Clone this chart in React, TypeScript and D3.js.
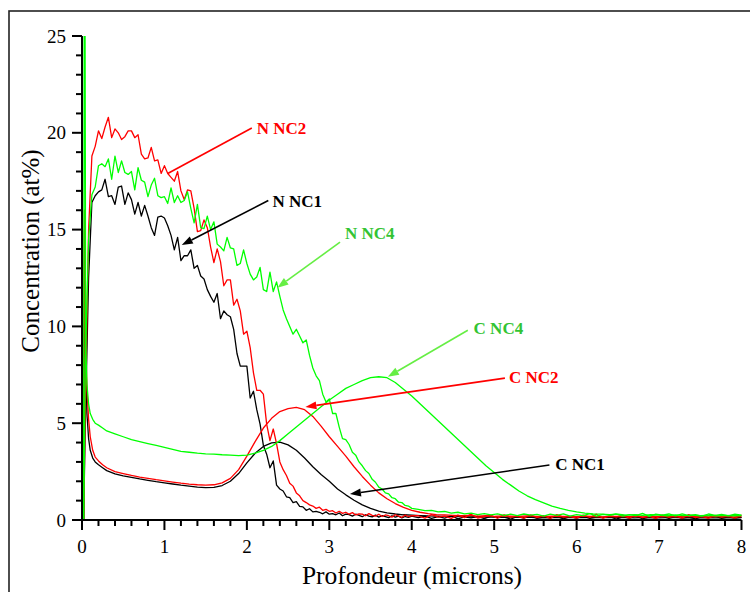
import React from "react";
import * as d3 from "d3";

// ---------- data ----------
// depth grid for the nitrogen (noisy) profiles: 0.02, 0.04..4.00 step 0.04, 4.08..8.00 step 0.08
const nDepth: number[] = [
  0.02,
  ...d3.range(1, 101).map((k) => k * 0.04),
  ...d3.range(1, 51).map((k) => 4 + k * 0.08),
];
// depth grid for the carbon (smooth) profiles
const cDepth: number[] = [
  0.02, 0.03, 0.045, 0.06, 0.08, 0.1, 0.13, 0.16, 0.2, 0.25,
  ...d3.range(3, 81).map((k) => k / 10),
];

const nNC1: number[] = [
  0, 5, 12.5, 16.4, 16.75, 16.95, 17.05, 17.6, 16.7, 16.75,
  16.3, 17.2, 17.25, 16.3, 16.9, 16.55, 15.8, 16.4, 15.7, 16.25,
  15.7, 15.1, 14.7, 15.65, 15.7, 15.6, 15.2, 14.7, 13.95, 14.6,
  13.4, 13.65, 13.65, 13.95, 13.0, 13.15, 12.6, 12.45, 11.9, 11.55,
  11.25, 11.7, 10.4, 10.8, 10.6, 10.5, 9.85, 8.6, 7.95, 7.95,
  7.95, 6.3, 6.65, 5.7, 4.95, 3.85, 3.4, 2.7, 3.05, 1.8,
  1.6, 1.5, 1.2, 1.15, 0.9, 0.95, 0.7, 0.68, 0.5, 0.58,
  0.42, 0.45, 0.4, 0.32, 0.42, 0.3, 0.33, 0.27, 0.36, 0.22,
  0.3, 0.28, 0.2, 0.3, 0.24, 0.17, 0.27, 0.2, 0.16, 0.25,
  0.15, 0.22, 0.17, 0.12, 0.22, 0.15, 0.2, 0.11, 0.18, 0.14,
  0.2,
  0.12, 0.2, 0.08, 0.18, 0.1, 0.22, 0.06, 0.16, 0.11, 0.19,
  0.07, 0.2, 0.12, 0.15, 0.05, 0.18, 0.1, 0.21, 0.08, 0.14,
  0.11, 0.19, 0.06, 0.17, 0.1, 0.2, 0.08, 0.15, 0.12, 0.18,
  0.05, 0.16, 0.1, 0.2, 0.07, 0.14, 0.11, 0.19, 0.08, 0.17,
  0.1, 0.15, 0.06, 0.18, 0.12, 0.2, 0.08, 0.16, 0.1, 0.14,
];

const nNC2: number[] = [
  0, 6, 15, 18.8, 19.3, 20.1, 19.7, 20.3, 20.8, 19.75,
  20.2, 20.0, 19.65, 19.8, 20.1, 20.1, 19.75, 19.9, 18.9, 18.65,
  18.7, 19.25, 18.55, 18.6, 17.9, 18.3, 17.9, 17.7, 17.5, 18.0,
  17.0, 16.55, 17.05, 17.0, 16.1, 14.9, 14.95, 15.5, 15.1, 14.1,
  13.3, 14.0, 13.35, 12.1, 12.4, 12.4, 11.1, 11.4, 10.8, 9.6,
  9.75, 8.9, 7.6, 6.7, 6.7, 6.5, 4.95, 4.1, 4.7, 3.95,
  3.0, 2.6, 2.3, 1.9, 1.75, 1.4, 1.25, 1.0, 0.9, 0.78,
  0.72, 0.6, 0.66, 0.5, 0.55, 0.45, 0.48, 0.36, 0.45, 0.34,
  0.4, 0.3, 0.38, 0.26, 0.32, 0.3, 0.22, 0.33, 0.24, 0.2,
  0.3, 0.18, 0.26, 0.22, 0.15, 0.27, 0.2, 0.14, 0.25, 0.18,
  0.22,
  0.22, 0.1, 0.28, 0.15, 0.2, 0.08, 0.25, 0.12, 0.3, 0.1,
  0.18, 0.24, 0.09, 0.27, 0.14, 0.2, 0.1, 0.26, 0.12, 0.22,
  0.08, 0.28, 0.15, 0.19, 0.1, 0.25, 0.13, 0.3, 0.09, 0.21,
  0.16, 0.24, 0.1, 0.27, 0.12, 0.2, 0.08, 0.25, 0.14, 0.22,
  0.1, 0.28, 0.12, 0.19, 0.09, 0.24, 0.15, 0.21, 0.1, 0.26,
];

const nNC4: number[] = [
  0, 8, 14.5, 16.8, 17.2, 18.3, 18.4, 18.25, 18.65, 17.6,
  18.8, 17.95, 18.55, 17.95, 17.85, 18.0, 17.05, 18.2, 17.55, 17.45,
  16.7, 17.3, 17.65, 16.75, 16.65, 16.7, 16.35, 17.15, 16.4, 16.75,
  16.4, 16.5, 16.95, 16.1, 15.35, 16.3, 15.1, 15.05, 15.7, 15.0,
  15.4, 14.25, 14.1, 13.9, 14.6, 14.05, 14.0, 13.15, 13.25, 13.95,
  13.25, 12.7, 12.4, 12.55, 13.05, 11.9, 11.8, 12.8, 11.8, 12.3,
  11.55, 10.85, 10.4, 10.0, 9.6, 9.85, 9.5, 9.15, 9.3, 8.5,
  7.85, 7.45, 7.2, 6.5, 6.1, 6.25, 5.5, 5.5, 4.8, 4.2,
  4.15, 3.9, 3.5, 3.35, 3.0, 2.8, 2.55, 2.4, 2.1, 1.95,
  1.7, 1.6, 1.4, 1.35, 1.15, 1.1, 0.92, 0.9, 0.75, 0.72,
  0.6,
  0.55, 0.48, 0.5, 0.42, 0.44, 0.36, 0.4, 0.32, 0.36, 0.28,
  0.33, 0.26, 0.32, 0.24, 0.3, 0.22, 0.31, 0.25, 0.29, 0.2,
  0.3, 0.24, 0.32, 0.2, 0.28, 0.23, 0.33, 0.2, 0.29, 0.25,
  0.31, 0.2, 0.28, 0.23, 0.34, 0.19, 0.3, 0.25, 0.31, 0.21,
  0.32, 0.22, 0.28, 0.2, 0.31, 0.24, 0.29, 0.21, 0.3, 0.25,
];

const cNC1: number[] = [
  0, 15, 8, 5.5, 4.2, 3.6, 3.2, 3.0, 2.85, 2.7,
  2.55, 2.38, 2.28, 2.2, 2.12, 2.05, 1.98, 1.92, 1.86, 1.8,
  1.75, 1.7, 1.67, 1.68, 1.78, 2.0, 2.4, 2.95, 3.45, 3.8,
  3.98, 4.02, 3.88, 3.6, 3.2, 2.75, 2.35, 2.0, 1.6, 1.3,
  1.02, 0.78, 0.6, 0.46, 0.37, 0.31, 0.27, 0.25,
  0.23, 0.21, 0.2, 0.19, 0.18, 0.17, 0.16, 0.17, 0.15, 0.16,
  0.14, 0.15, 0.14, 0.15, 0.13, 0.14, 0.13, 0.14, 0.12, 0.13,
  0.14, 0.12, 0.13, 0.12, 0.13, 0.12, 0.11, 0.13, 0.12, 0.11,
  0.12, 0.13, 0.11, 0.12, 0.11, 0.12, 0.11, 0.12, 0.11, 0.12,
];

const cNC2: number[] = [
  0, 16, 9, 6.8, 5.2, 4.3, 3.6, 3.25, 3.05, 2.85,
  2.7, 2.5, 2.4, 2.3, 2.22, 2.15, 2.08, 2.02, 1.96, 1.9,
  1.85, 1.82, 1.8, 1.82, 1.92, 2.15, 2.6, 3.3, 4.05, 4.75,
  5.25, 5.6, 5.75, 5.82, 5.7, 5.35, 4.85, 4.3, 3.8, 3.3,
  2.75, 2.25, 1.8, 1.4, 1.1, 0.85, 0.65, 0.5, 0.4, 0.33, 0.28,
  0.26, 0.24, 0.22, 0.24, 0.2, 0.22, 0.19, 0.21, 0.2, 0.18,
  0.21, 0.19, 0.17, 0.2, 0.18, 0.19, 0.17, 0.2, 0.18, 0.16,
  0.19, 0.18, 0.17, 0.19, 0.16, 0.18, 0.17, 0.19, 0.16, 0.18,
  0.17, 0.18, 0.16, 0.18, 0.17, 0.16, 0.18,
];

const cNC4: number[] = [
  0, 40, 9, 7.0, 6.0, 5.5, 5.2, 5.0, 4.9, 4.75,
  4.6, 4.45, 4.3, 4.15, 4.05, 3.95, 3.85, 3.75, 3.65, 3.55,
  3.5, 3.45, 3.42, 3.4, 3.37, 3.35, 3.32, 3.35, 3.45, 3.6,
  3.8, 4.1, 4.45, 4.8, 5.15, 5.5, 5.85, 6.2, 6.5, 6.8,
  7.0, 7.2, 7.35, 7.4, 7.35, 7.1, 6.75, 6.4, 6.0, 5.6,
  5.2, 4.8, 4.4, 4.0, 3.6, 3.2, 2.8, 2.45, 2.1, 1.8,
  1.5, 1.25, 1.05, 0.88, 0.72, 0.6, 0.5, 0.42, 0.36, 0.32,
  0.3, 0.27, 0.3, 0.25, 0.28, 0.24, 0.27, 0.25, 0.22, 0.26,
  0.23, 0.25, 0.22, 0.24, 0.21, 0.24, 0.22, 0.23,
];

const xTicks = [0, 1, 2, 3, 4, 5, 6, 7, 8];
const yTicks = [0, 5, 10, 15, 20, 25];

// annotation anchors in data units (depth, concentration)
type Ann = { label: string; color: string; line: string; tx: number; ty: number; fx: number; fy: number; ex: number; ey: number; arrow: boolean };
const annotations: Ann[] = [
  { label: "N NC2", color: "#ff0000", line: "#ff0000", tx: 2.12, ty: 20.25, fx: 2.06, fy: 20.25, ex: 1.04, ey: 17.9, arrow: false },
  { label: "N NC1", color: "#000000", line: "#000000", tx: 2.31, ty: 16.5, fx: 2.26, fy: 16.5, ex: 1.21, ey: 14.2, arrow: true },
  { label: "N NC4", color: "#33c433", line: "#66ee44", tx: 3.19, ty: 14.8, fx: 3.13, fy: 14.35, ex: 2.37, ey: 12.0, arrow: true },
  { label: "C NC4", color: "#33c433", line: "#66ee44", tx: 4.75, ty: 9.9, fx: 4.68, fy: 9.8, ex: 3.71, ey: 7.4, arrow: true },
  { label: "C NC2", color: "#ff0000", line: "#ff0000", tx: 5.18, ty: 7.4, fx: 5.13, fy: 7.33, ex: 2.71, ey: 5.84, arrow: true },
  { label: "C NC1", color: "#000000", line: "#000000", tx: 5.74, ty: 2.9, fx: 5.67, fy: 2.84, ex: 3.25, ey: 1.34, arrow: true },
];

const SERIF = "'Liberation Serif', 'Times New Roman', Times, serif";

export default function App() {
  const x = d3.scaleLinear().domain([0, 8]).range([82, 741.5]);
  const y = d3.scaleLinear().domain([0, 25]).range([520, 36]);

  const mk = (depth: number[], vals: number[]) => {
    const pts: [number, number][] = [];
    const n = Math.min(depth.length, vals.length);
    for (let i = 0; i < n; i++) pts.push([depth[i], vals[i]]);
    return d3
      .line<[number, number]>()
      .x((d) => x(d[0]))
      .y((d) => y(d[1]))(pts) as string;
  };

  const series = [
    { d: mk(nDepth, nNC1), c: "#000000" },
    { d: mk(cDepth, cNC1), c: "#000000" },
    { d: mk(nDepth, nNC2), c: "#ff0000" },
    { d: mk(cDepth, cNC2), c: "#ff0000" },
    { d: mk(nDepth, nNC4), c: "#00ff00" },
    { d: mk(cDepth, cNC4), c: "#00ff00" },
  ];

  const xMinor = d3.range(0, 41).map((k) => k * 0.2).filter((v) => Math.abs(v - Math.round(v)) > 1e-6);
  const yMinor = d3.range(0, 26).filter((v) => v % 5 !== 0);

  return (
    <svg width={750} height={592} style={{ position: "absolute", left: 0, top: 0, background: "#fff" }}>
      <defs>
        <clipPath id="plot">
          <rect x={x(0)} y={y(25)} width={x(8) - x(0) + 2} height={y(0) - y(25)} />
        </clipPath>
      </defs>
      <rect x={0} y={0} width={750} height={592} fill="#fff" />
      {/* outer frame */}
      <rect x={9} y={11} width={900} height={900} fill="none" stroke="#222" strokeWidth={1.6} />

      {/* curves */}
      <g clipPath="url(#plot)">
        {series.map((s, i) => (
          <path key={i} d={s.d} fill="none" stroke={s.c} strokeWidth={1.3} strokeLinejoin="round" />
        ))}
      </g>

      {/* annotations */}
      {annotations.map((a, i) => {
        const x1 = x(a.fx), y1 = y(a.fy), x2 = x(a.ex), y2 = y(a.ey);
        const ang = Math.atan2(y2 - y1, x2 - x1);
        const L = 11, Wd = 4;
        const bx = x2 - L * Math.cos(ang), by = y2 - L * Math.sin(ang);
        const p1 = [bx + Wd * Math.sin(ang), by - Wd * Math.cos(ang)];
        const p2 = [bx - Wd * Math.sin(ang), by + Wd * Math.cos(ang)];
        return (
          <g key={i}>
            <line x1={x1} y1={y1} x2={a.arrow ? bx : x2} y2={a.arrow ? by : y2} stroke={a.line} strokeWidth={1.6} />
            {a.arrow && (
              <polygon points={`${x2},${y2} ${p1[0]},${p1[1]} ${p2[0]},${p2[1]}`} fill={a.line} />
            )}
            <text x={x(a.tx)} y={y(a.ty)} dy="0.35em" fill={a.color} fontFamily={SERIF} fontWeight="bold" fontSize={17}>
              {a.label}
            </text>
          </g>
        );
      })}

      {/* axes */}
      <g stroke="#000" strokeWidth={2}>
        <line x1={x(0)} y1={y(0)} x2={x(0)} y2={y(25)} />
        <line x1={x(0)} y1={y(0)} x2={x(8)} y2={y(0)} />
        {yTicks.map((t) => (
          <line key={"ym" + t} x1={x(0) - 10} x2={x(0)} y1={y(t)} y2={y(t)} />
        ))}
        {yMinor.map((t) => (
          <line key={"yn" + t} x1={x(0) - 6} x2={x(0)} y1={y(t)} y2={y(t)} />
        ))}
        {xTicks.map((t) => (
          <line key={"xm" + t} x1={x(t)} x2={x(t)} y1={y(0)} y2={y(0) + 10} />
        ))}
        {xMinor.map((t, i) => (
          <line key={"xn" + i} x1={x(t)} x2={x(t)} y1={y(0)} y2={y(0) + 6} />
        ))}
      </g>
      <g fontFamily={SERIF} fontSize={19} fill="#000">
        {yTicks.map((t) => (
          <text key={"yl" + t} x={x(0) - 16} y={y(t)} dy="0.35em" textAnchor="end">
            {t}
          </text>
        ))}
        {xTicks.map((t) => (
          <text key={"xl" + t} x={x(t)} y={y(0) + 26} dy="0.35em" textAnchor="middle">
            {t}
          </text>
        ))}
      </g>
      <text
        transform={`translate(30, ${(y(0) + y(25)) / 2 - 27}) rotate(-90)`}
        dy="0.35em"
        textAnchor="middle"
        fontFamily={SERIF}
        fontSize={25}
        fill="#000"
      >
        Concentration (at%)
      </text>
      <text x={412} y={584} textAnchor="middle" fontFamily={SERIF} fontSize={25.5} fill="#000">
        Profondeur (microns)
      </text>
    </svg>
  );
}
